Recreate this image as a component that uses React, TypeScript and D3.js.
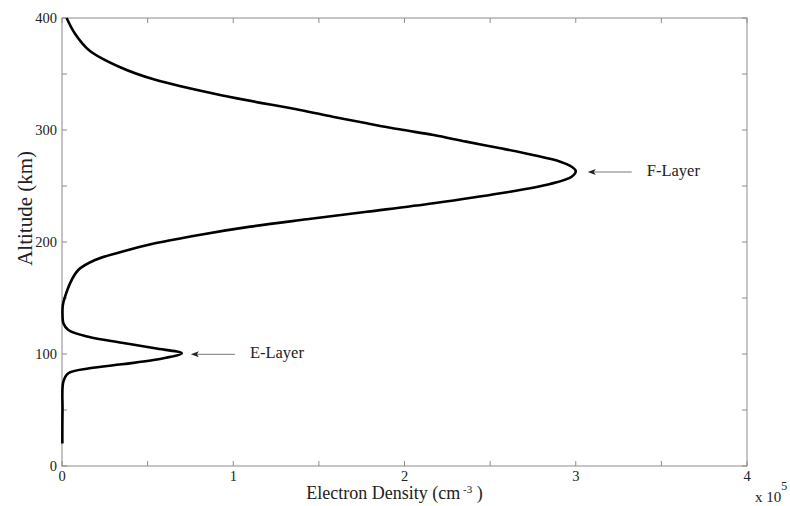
import * as d3 from 'd3';
import React, { useEffect, useRef } from 'react';

// altitude (km) and electron density (x 10^5 cm^-3)
const altitude = [20, 50, 75.3, 82.8, 87.2, 90.8, 94.8, 100.6, 105.1, 110.1, 115.4, 121.4, 127.4, 134.8,
  143.8, 151.2, 163.1, 175, 183.9, 191.3, 198.8, 206.3, 213.7, 220.3, 227, 234.6, 243.5, 251.8, 258.3,
  263.4, 267.2, 271.7, 277.7, 283.7, 289.6, 295.5, 300.6, 306, 311.9, 317.9, 331, 345, 356, 371, 386, 400];
const density = [0.002, 0.003, 0.008, 0.037, 0.16, 0.349, 0.543, 0.70, 0.543, 0.349, 0.154, 0.037, 0.008, 0.003,
  0.005, 0.018, 0.047, 0.095, 0.193, 0.349, 0.543, 0.80, 1.10, 1.43, 1.78, 2.17, 2.56, 2.85, 2.976,
  3.0, 2.976, 2.91, 2.75, 2.56, 2.36, 2.17, 1.97, 1.78, 1.58, 1.39, 0.93, 0.54, 0.34, 0.16, 0.076, 0.027];

const xTicks = [0, 0.5, 1, 1.5, 2, 2.5, 3, 3.5, 4];
const yTicks = [0, 50, 100, 150, 200, 250, 300, 350, 400];

// layer peaks used for the annotations
const layerNames = ['E-Layer', 'F-Layer'];
const layerDensity = [0.70, 3.0];
const layerAltitude = [100.6, 263.4];

const FONT = '"Liberation Serif", "Times New Roman", serif';

export default function App() {
  const ref = useRef<SVGSVGElement>(null);

  useEffect(() => {
    const width = 790;
    const height = 506;
    const margin = { top: 18, right: 43, bottom: 40, left: 62 };
    const w = width - margin.left - margin.right;
    const h = height - margin.top - margin.bottom;

    const svg = d3.select(ref.current);
    svg.selectAll('*').remove();

    const x = d3.scaleLinear().domain([0, 4]).range([0, w]);
    const y = d3.scaleLinear().domain([0, 400]).range([h, 0]);

    const g = svg.append('g').attr('transform', 'translate(' + margin.left + ',' + margin.top + ')');

    const axisColor = '#8c8c8c';
    const tickLen = 5;

    // frame
    g.append('rect')
      .attr('x', 0).attr('y', 0).attr('width', w).attr('height', h)
      .attr('fill', 'none').attr('stroke', axisColor).attr('stroke-width', 1);

    // inward ticks, all four sides
    xTicks.forEach(t => {
      g.append('line').attr('x1', x(t)).attr('x2', x(t)).attr('y1', h).attr('y2', h - tickLen)
        .attr('stroke', axisColor);
      g.append('line').attr('x1', x(t)).attr('x2', x(t)).attr('y1', 0).attr('y2', tickLen)
        .attr('stroke', axisColor);
      if (Number.isInteger(t)) {
        g.append('text').attr('x', x(t)).attr('y', h + 15)
          .attr('text-anchor', 'middle').attr('font-family', FONT).attr('font-size', 14.5)
          .attr('fill', '#222').text(String(t));
      }
    });
    yTicks.forEach(t => {
      g.append('line').attr('x1', 0).attr('x2', tickLen).attr('y1', y(t)).attr('y2', y(t))
        .attr('stroke', axisColor);
      g.append('line').attr('x1', w).attr('x2', w - tickLen).attr('y1', y(t)).attr('y2', y(t))
        .attr('stroke', axisColor);
      if (t % 100 === 0) {
        g.append('text').attr('x', -5).attr('y', y(t) + 5)
          .attr('text-anchor', 'end').attr('font-family', FONT).attr('font-size', 14.5)
          .attr('fill', '#222').text(String(t));
      }
    });

    // profile curve
    const pts: [number, number][] = altitude.map((a, i) => [density[i], a]);
    const line = d3.line<[number, number]>()
      .x(d => x(d[0]))
      .y(d => y(d[1]))
      .curve(d3.curveCatmullRom.alpha(0.5));
    g.append('path').datum(pts)
      .attr('d', line)
      .attr('fill', 'none').attr('stroke', '#000').attr('stroke-width', 2.6)
      .attr('stroke-linejoin', 'round');

    // annotations
    layerNames.forEach((name, i) => {
      const tx = x(layerDensity[i]) + (i === 0 ? 9 : 12);
      const ty = y(layerAltitude[i]) + 1;
      g.append('line').attr('x1', tx + 4).attr('x2', tx + 44).attr('y1', ty).attr('y2', ty)
        .attr('stroke', '#555').attr('stroke-width', 0.8);
      g.append('path')
        .attr('d', 'M' + tx + ',' + ty + 'L' + (tx + 8) + ',' + (ty - 3) + 'L' + (tx + 6) + ',' + ty +
          'L' + (tx + 8) + ',' + (ty + 3) + 'Z')
        .attr('fill', '#222');
      g.append('text').attr('x', tx + 59).attr('y', ty + 4)
        .attr('font-family', FONT).attr('font-size', 16.5).attr('fill', '#222').text(name);
    });

    // axis labels
    const xl = g.append('text').attr('x', w / 2 - 10).attr('y', h + 33)
      .attr('text-anchor', 'middle').attr('font-family', FONT).attr('font-size', 18).attr('fill', '#222');
    xl.append('tspan').text('Electron Density (cm');
    xl.append('tspan').attr('dy', -6).attr('font-size', 11).text(' -3');
    xl.append('tspan').attr('dy', 6).text(' )');

    g.append('text')
      .attr('transform', 'translate(' + (-30) + ',' + (y(230)) + ') rotate(-90)')
      .attr('text-anchor', 'middle').attr('font-family', FONT).attr('font-size', 21).attr('fill', '#222')
      .text('Altitude (km)');

    // exponent
    const ex = g.append('text').attr('x', w + 8).attr('y', h + 36)
      .attr('font-family', FONT).attr('font-size', 15).attr('fill', '#222');
    ex.append('tspan').text('x 10');
    ex.append('tspan').attr('dy', -12).attr('font-size', 12).text('5');
  }, []);

  return (
    <svg ref={ref} width={790} height={506}
      style={{ position: 'absolute', left: 0, top: 0, display: 'block', background: '#fff' }} />
  );
}
